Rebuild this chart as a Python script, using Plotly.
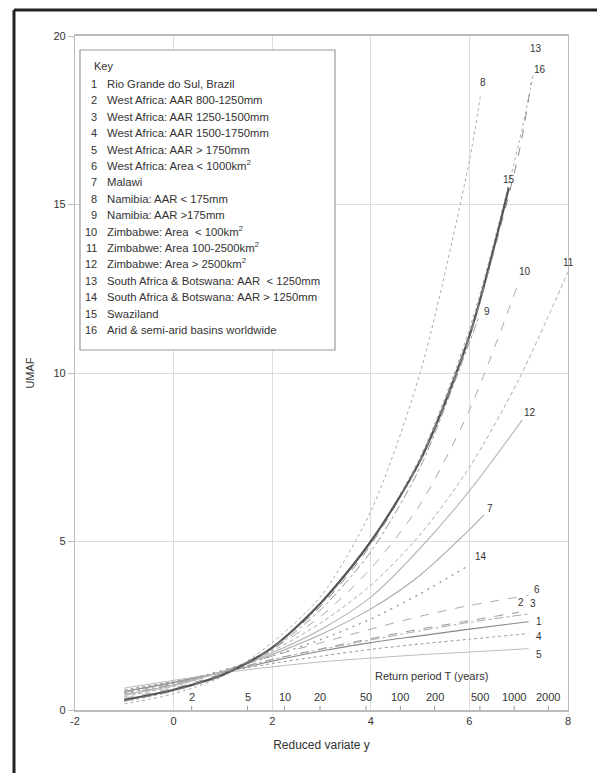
import math
import plotly.graph_objects as go

# ---------------- data ----------------
yr = [-1, 0, 1, 2, 3, 4, 5, 6]

c1_x = yr + [7.2];  c1_v = [0.55, 0.82, 1.12, 1.45, 1.75, 2.00, 2.20, 2.40, 2.62]
c2_x = yr + [7.0];  c2_v = [0.55, 0.80, 1.13, 1.50, 1.82, 2.12, 2.40, 2.65, 2.90]
c3_x = yr + [7.2];  c3_v = [0.52, 0.80, 1.14, 1.50, 1.80, 2.08, 2.35, 2.60, 2.85]
c4_x = yr + [7.2];  c4_v = [0.60, 0.85, 1.13, 1.38, 1.60, 1.80, 1.96, 2.10, 2.27]
c5_x = yr + [7.2];  c5_v = [0.65, 0.88, 1.10, 1.28, 1.43, 1.54, 1.64, 1.72, 1.82]
c6_x = yr + [7.2];  c6_v = [0.47, 0.76, 1.15, 1.60, 2.00, 2.40, 2.78, 3.10, 3.40]
c7_x = yr + [6.3];  c7_v = [0.45, 0.75, 1.15, 1.65, 2.25, 3.00, 4.00, 5.35, 5.80]
c8_x = yr + [6.22]; c8_v = [0.18, 0.48, 1.00, 2.00, 3.40, 5.90, 10.0, 16.3, 18.2]
c9_x = yr + [6.2];  c9_v = [0.28, 0.58, 1.05, 1.80, 3.00, 4.70, 7.20, 10.9, 11.7]
c10_x = yr + [7.0]; c10_v = [0.35, 0.65, 1.10, 1.80, 2.80, 4.20, 6.10, 8.90, 12.7]
c11_x = yr + [7, 8]; c11_v = [0.40, 0.70, 1.15, 1.75, 2.60, 3.70, 5.20, 7.20, 9.80, 13.0]
c12_x = yr + [7.07]; c12_v = [0.45, 0.72, 1.15, 1.70, 2.40, 3.35, 4.80, 6.50, 8.60]
c13_x = yr + [7, 7.3]; c13_v = [0.25, 0.56, 1.05, 1.85, 3.15, 5.00, 7.50, 11.3, 16.8, 18.9]
c14_x = yr;          c14_v = [0.50, 0.78, 1.18, 1.60, 2.10, 2.70, 3.45, 4.30]
c15_x = yr + [6.8];  c15_v = [0.30, 0.60, 1.05, 1.85, 3.20, 5.00, 7.40, 11.1, 15.5]
c16_x = yr + [7, 7.25]; c16_v = [0.27, 0.57, 1.05, 1.85, 3.10, 4.90, 7.40, 11.1, 16.5, 18.6]

key_labels = [
    "Rio Grande do Sul, Brazil",
    "West Africa: AAR 800-1250mm",
    "West Africa: AAR 1250-1500mm",
    "West Africa: AAR 1500-1750mm",
    "West Africa: AAR > 1750mm",
    "West Africa: Area < 1000km<sup>2</sup>",
    "Malawi",
    "Namibia: AAR < 175mm",
    "Namibia: AAR >175mm",
    "Zimbabwe: Area  < 100km<sup>2</sup>",
    "Zimbabwe: Area 100-2500km<sup>2</sup>",
    "Zimbabwe: Area > 2500km<sup>2</sup>",
    "South Africa & Botswana: AAR  < 1250mm",
    "South Africa & Botswana: AAR > 1250mm",
    "Swaziland",
    "Arid & semi-arid basins worldwide",
]

x_ticks = [-2, 0, 2, 4, 6, 8]
y_ticks = [0, 5, 10, 15, 20]
T_ticks = [2, 5, 10, 20, 50, 100, 200, 500, 1000, 2000]

# ---------------- styles ----------------
curves = [
    (c1_x, c1_v, dict(color="#888", width=1.1, dash="solid"), (10, 0)),
    (c2_x, c2_v, dict(color="#999", width=1.0, dash="dash"), (2, 10)),
    (c3_x, c3_v, dict(color="#aaa", width=1.0, dash="dashdot"), (4, 10)),
    (c4_x, c4_v, dict(color="#999", width=1.0, dash="dot"), (10, -3)),
    (c5_x, c5_v, dict(color="#bbb", width=1.0, dash="solid"), (10, -6)),
    (c6_x, c6_v, dict(color="#aaa", width=1.0, dash="dash"), (8, 6)),
    (c7_x, c7_v, dict(color="#aaa", width=1.1, dash="solid"), (6, 6)),
    (c8_x, c8_v, dict(color="#aaa", width=1.0, dash="dot"), (3, 14)),
    (c9_x, c9_v, dict(color="#999", width=1.0, dash="dashdot"), (8, 4)),
    (c10_x, c10_v, dict(color="#aaa", width=1.0, dash="dash"), (6, 11)),
    (c11_x, c11_v, dict(color="#aaa", width=1.0, dash="4px,3px"), (0, 9)),
    (c12_x, c12_v, dict(color="#bbb", width=1.2, dash="solid"), (8, 8)),
    (c13_x, c13_v, dict(color="#aaa", width=1.0, dash="dot"), (3, 25)),
    (c14_x, c14_v, dict(color="#999", width=1.4, dash="2px,5px"), (12, 9)),
    (c15_x, c15_v, dict(color="#555", width=2.2, dash="solid"), (0, 8)),
    (c16_x, c16_v, dict(color="#888", width=1.0, dash="dash"), (9, 14)),
]

fig = go.Figure()
annotations = []
for i, (xs, vs, ln, (dx, dy)) in enumerate(curves):
    fig.add_trace(go.Scatter(x=xs, y=vs, mode="lines", line=dict(shape="spline", smoothing=0.8, **ln),
                             showlegend=False, hoverinfo="skip"))
    annotations.append(dict(x=xs[-1], y=vs[-1], xref="x", yref="y", text=str(i + 1), showarrow=False,
                            xshift=dx, yshift=dy, font=dict(size=10, color="#333")))

# return period axis labels (Gumbel reduced variate positions)
T_pos = [-math.log(-math.log(1 - 1 / T)) for T in T_ticks]
for p, T in zip(T_pos, T_ticks):
    annotations.append(dict(x=p, y=0, xref="x", yref="y", text=str(T), showarrow=False, yshift=13,
                            font=dict(size=11, color="#333")))
annotations.append(dict(x=5.24, y=0, xref="x", yref="y", text="Return period T (years)", showarrow=False,
                        yshift=34, font=dict(size=11, color="#333")))

# key box contents
W, H = 493.0, 674.0
def px(xp): return (xp - 75) / W
def py(yp): return (710 - yp) / H

annotations.append(dict(x=px(92), y=py(74), xref="paper", yref="paper", text="Key", showarrow=False,
                        xanchor="left", yanchor="bottom", font=dict(size=11, color="#333")))
step = 16.4
for i, lab in enumerate(key_labels):
    yy = py(92 + i * step)
    annotations.append(dict(x=px(99), y=yy, xref="paper", yref="paper", text=str(i + 1), showarrow=False,
                            xanchor="right", yanchor="bottom", font=dict(size=11, color="#333")))
    annotations.append(dict(x=px(105), y=yy, xref="paper", yref="paper", text=lab, showarrow=False,
                            xanchor="left", yanchor="bottom", font=dict(size=11.3, color="#333")))

shapes = [
    dict(type="rect", xref="paper", yref="paper", x0=px(80), x1=px(335), y0=py(350), y1=py(50),
         line=dict(color="#999", width=1.2), fillcolor="white", layer="above"),
    dict(type="line", xref="paper", yref="paper", x0=px(14), x1=px(600), y0=py(10), y1=py(10),
         line=dict(color="#222", width=3)),
    dict(type="line", xref="paper", yref="paper", x0=px(14), x1=px(14), y0=py(10), y1=py(780),
         line=dict(color="#222", width=3)),
]
for p in T_pos:
    shapes.append(dict(type="line", xref="x", yref="y", x0=p, x1=p, y0=0, y1=0.12,
                       line=dict(color="#999", width=1)))

fig.update_layout(
    width=597, height=773,
    margin=dict(l=75, r=29, t=36, b=63),
    paper_bgcolor="white", plot_bgcolor="white",
    font=dict(family="Liberation Sans, Arial, sans-serif", size=11, color="#333"),
    xaxis=dict(range=[-2, 8], tickvals=x_ticks, ticktext=[str(v) for v in x_ticks],
               showgrid=True, gridcolor="#ddd", gridwidth=1, zeroline=False,
               showline=True, linecolor="#bbb", linewidth=2, mirror=True,
               ticks="", ticklen=0, title=dict(text="Reduced variate y", font=dict(size=12), standoff=14)),
    yaxis=dict(range=[0, 20], tickvals=y_ticks, showgrid=True, gridcolor="#ddd", zeroline=False,
               showline=True, linecolor="#bbb", linewidth=1.2, mirror=True,
               ticks="outside", ticklen=6, tickcolor="#bbb",
               title=dict(text="UMAF", font=dict(size=11), standoff=16)),
    annotations=annotations,
    shapes=shapes,
)

fig.write_html("out.html")
